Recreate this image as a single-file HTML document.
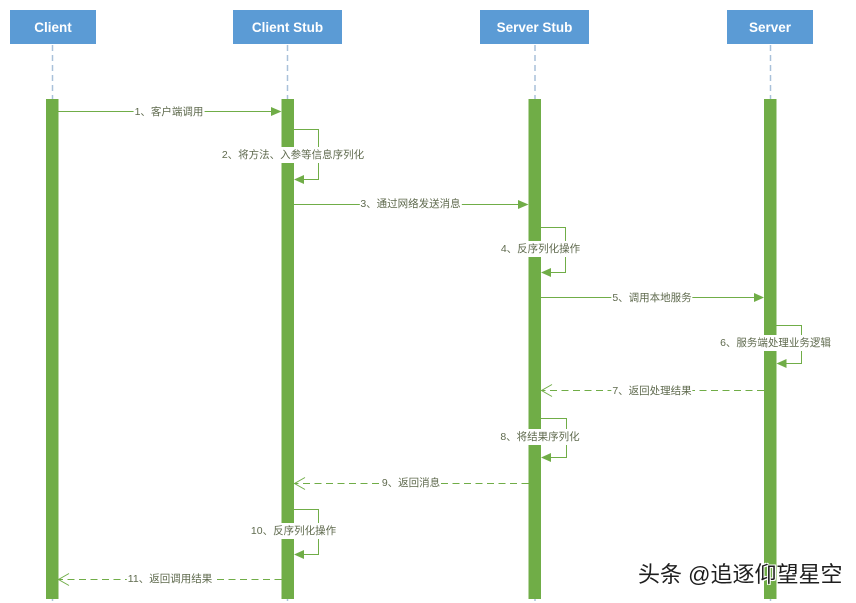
<!DOCTYPE html>
<html><head><meta charset="utf-8"><style>
html,body{margin:0;padding:0;background:#fff;}
body{width:856px;height:603px;position:relative;overflow:hidden;font-family:"Liberation Sans","Noto Sans CJK SC",sans-serif;}
svg{position:absolute;left:0;top:0;}
.h{position:absolute;color:#fff;font-weight:bold;font-size:13.5px;display:flex;align-items:center;justify-content:center;background:#5b9bd5;}
.l{position:absolute;transform:translate(-50%,-50%);background:#fff;color:#5f6a4e;font-size:10.5px;line-height:14px;white-space:nowrap;padding:0 1px;}
.wm{position:absolute;left:638px;top:561px;font-size:22px;line-height:28px;color:#1e1e1e;white-space:nowrap;text-shadow:1px 1px 0 #fff,-1px -1px 0 #fff,1px -1px 0 #fff,-1px 1px 0 #fff;font-family:"Liberation Sans","Noto Sans CJK SC",sans-serif;}
</style></head><body>
<svg width="856" height="603" viewBox="0 0 856 603">
 <g stroke="#a9c1da" stroke-width="1.5" stroke-dasharray="6,4" fill="none">
  <line x1="52.5" y1="45" x2="52.5" y2="603"/>
  <line x1="287.5" y1="45" x2="287.5" y2="603"/>
  <line x1="535" y1="45" x2="535" y2="603"/>
  <line x1="770.5" y1="45" x2="770.5" y2="603"/>
 </g>
 <g fill="#70ad47">
  <rect x="46" y="99" width="12.5" height="500"/>
  <rect x="281.5" y="99" width="12.5" height="500"/>
  <rect x="528.5" y="99" width="12.5" height="500"/>
  <rect x="764" y="99" width="12.5" height="500"/>
 </g>
 <g stroke="#70ad47" stroke-width="1" fill="none">
  <line x1="58.5" y1="111.5" x2="272" y2="111.5"/>
  <polyline points="294,129.5 318.5,129.5 318.5,179.5 303,179.5"/>
  <line x1="294" y1="204.5" x2="519" y2="204.5"/>
  <polyline points="541,227.5 565.5,227.5 565.5,272.5 550,272.5"/>
  <line x1="541" y1="297.5" x2="755" y2="297.5"/>
  <polyline points="776.5,325.5 801.5,325.5 801.5,363.5 786,363.5"/>
  <line x1="764" y1="390.5" x2="542" y2="390.5" stroke-dasharray="7,4.5"/>
  <polyline points="541.5,385 541.5,390.5" stroke="none"/>
  <polyline points="552,384.5 541.5,390.5 552,396.5"/>
  <polyline points="541,418.5 566.5,418.5 566.5,457.5 550,457.5"/>
  <line x1="528.5" y1="483.5" x2="295" y2="483.5" stroke-dasharray="7,4.5"/>
  <polyline points="305,477.5 294.5,483.5 305,489.5"/>
  <polyline points="294,509.5 318.5,509.5 318.5,554.5 303,554.5"/>
  <line x1="281.5" y1="579.5" x2="59" y2="579.5" stroke-dasharray="7,4.5"/>
  <polyline points="69,573.5 58.5,579.5 69,585.5"/>
 </g>
 <g fill="#70ad47">
  <polygon points="281.5,111.5 271,107 271,116"/>
  <polygon points="294,179.5 304,175 304,184"/>
  <polygon points="528.5,204.5 518,200 518,209"/>
  <polygon points="541,272.5 551,268 551,277"/>
  <polygon points="764,297.5 754,293 754,302"/>
  <polygon points="776.5,363.5 786.5,359 786.5,368"/>
  <polygon points="541,457.5 551,453 551,462"/>
  <polygon points="294,554.5 304,550 304,559"/>
 </g>
</svg>
<div class="h" style="left:10px;top:10px;width:86px;height:34px;">Client</div>
<div class="h" style="left:233px;top:10px;width:109px;height:34px;">Client Stub</div>
<div class="h" style="left:480px;top:10px;width:109px;height:34px;">Server Stub</div>
<div class="h" style="left:727px;top:10px;width:86px;height:34px;">Server</div>

<div class="l" style="left:169px;top:112px;">1、客户端调用</div>
<div class="l" style="left:293px;top:155px;padding:1px 1px;">2、将方法、入参等信息序列化</div>
<div class="l" style="left:410.5px;top:204px;">3、通过网络发送消息</div>
<div class="l" style="left:540.5px;top:249px;padding:1px 1px;">4、反序列化操作</div>
<div class="l" style="left:652px;top:297.5px;">5、调用本地服务</div>
<div class="l" style="left:775.5px;top:343px;padding:1px 1px;">6、服务端处理业务逻辑</div>
<div class="l" style="left:652px;top:390.5px;">7、返回处理结果</div>
<div class="l" style="left:540px;top:437px;padding:1px 1px;">8、将结果序列化</div>
<div class="l" style="left:411px;top:483px;">9、返回消息</div>
<div class="l" style="left:293.5px;top:531px;padding:1px 1px;">10、反序列化操作</div>
<div class="l" style="left:170px;top:579px;">11、返回调用结果</div>

<div class="wm">头条 @追逐仰望星空</div>
</body></html>
